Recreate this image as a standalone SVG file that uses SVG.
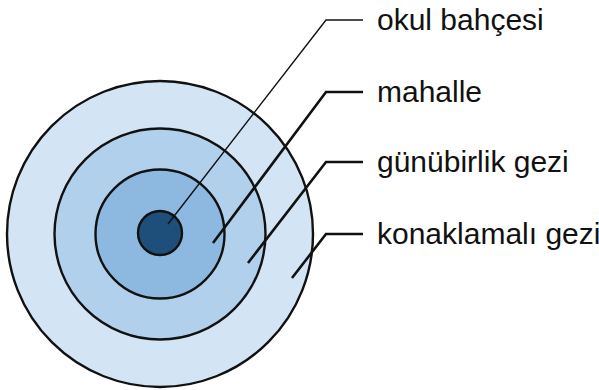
<svg xmlns="http://www.w3.org/2000/svg" width="599" height="390" viewBox="0 0 599 390">
<style>
.ring{stroke:#111;stroke-width:2.4}
.lbl{font-family:"Liberation Sans",Arial,sans-serif;font-size:30px;fill:#111}
.lead{fill:none;stroke:#111;stroke-width:2.6;stroke-linejoin:miter}
.thin{stroke-width:1.4}
</style>
<rect width="599" height="390" fill="#fff"/>
<g id="konaklamali-gezi">
<circle class="ring" cx="160" cy="234" r="153" fill="#d3e4f4"/>
</g>
<g id="gunubirlik-gezi">
<circle class="ring" cx="160" cy="234" r="105.5" fill="#b1d0ec"/>
</g>
<g id="mahalle">
<circle class="ring" cx="160" cy="234" r="64.5" fill="#8db9e1"/>
</g>
<g id="okul-bahcesi">
<circle class="ring" cx="160" cy="233" r="22" fill="#1e4f7b"/>
</g>
<g id="connectors">
<polyline class="lead thin" points="168,224 326,20 363,20"/>
<polyline class="lead" points="213,243 326,92 363,92"/>
<polyline class="lead" points="248,263 326,162 363,162"/>
<polyline class="lead" points="292,278 326,234 363,234"/>
</g>
<g id="labels">
<text class="lbl" x="377" y="30">okul bahçesi</text>
<text class="lbl" x="377" y="102">mahalle</text>
<text class="lbl" x="377" y="172">günübirlik gezi</text>
<text class="lbl" x="377" y="244">konaklamalı gezi</text>
</g>
</svg>
